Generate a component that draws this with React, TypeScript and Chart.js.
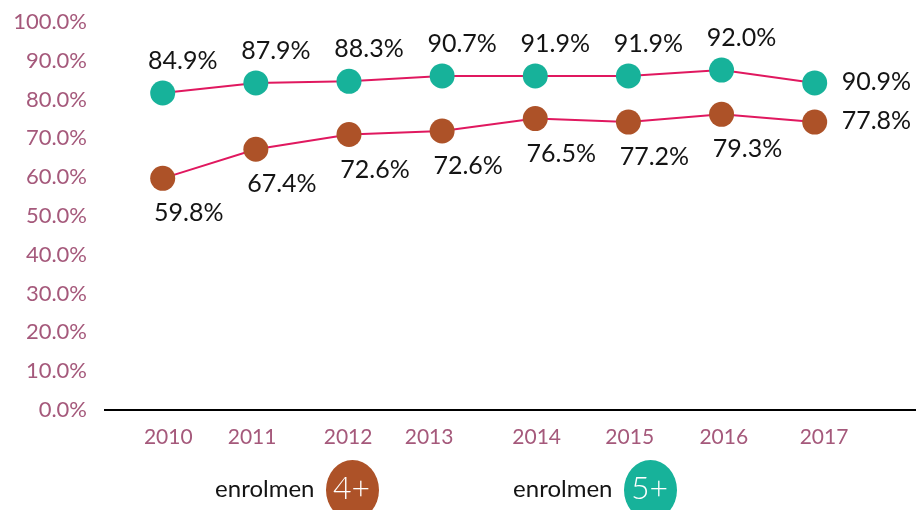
import React, { useEffect, useRef } from "react";
import { Chart, registerables } from "chart.js";

Chart.register(...registerables);

// ---- data ----
const years = ["2010", "2011", "2012", "2013", "2014", "2015", "2016", "2017"];
// point heights as drawn in the picture (percent)
const enrol5Values = [81.7, 84.3, 84.7, 86.1, 86.1, 86.1, 87.6, 84.3];
const enrol4Values = [59.7, 67.2, 71.0, 71.9, 75.1, 74.2, 76.2, 74.2];
// data label texts as printed
const enrol5Labels = ["84.9%", "87.9%", "88.3%", "90.7%", "91.9%", "91.9%", "92.0%", "90.9%"];
const enrol4Labels = ["59.8%", "67.4%", "72.6%", "72.6%", "76.5%", "77.2%", "79.3%", "77.8%"];
const legendNames = ["enrolmen", "enrolmen"];
const legendBadges = ["4+", "5+"];

// ---- layout / style constants ----
const yearTickAt = [0.06, 0.96, 1.99, 2.86, 4.015, 5.014, 6.024, 7.1];
const TEAL = "#17b29a";
const BROWN = "#ad5228";
const LINE = "#e0185f";
const MAUVE = "#a5597b";
const FONT = "Lato, 'Open Sans', sans-serif";

const labelPlugin = {
  id: "pointLabels",
  afterDatasetsDraw(chart: any) {
    const ctx = chart.ctx;
    ctx.save();
    ctx.font = `25px ${FONT}`;
    ctx.fillStyle = "#141414";
    ctx.textBaseline = "middle";
    chart.data.datasets.forEach((ds: any, di: number) => {
      const meta = chart.getDatasetMeta(di);
      const labels: string[] = ds.pointLabels;
      const above = ds.labelSide === "above";
      meta.data.forEach((pt: any, i: number) => {
        const last = i === meta.data.length - 1;
        if (last) {
          ctx.textAlign = "left";
          ctx.fillText(labels[i], pt.x + 27, pt.y - 1);
        } else {
          ctx.textAlign = "center";
          ctx.fillText(labels[i], pt.x + (above ? 20 : 26), pt.y + (above ? -32 : 35));
        }
      });
    });
    ctx.restore();
  },
};

const legendPlugin = {
  id: "badgeLegend",
  afterDraw(chart: any) {
    const ctx = chart.ctx;
    const centers = [352.5, 650.5];
    const colors = [BROWN, TEAL];
    ctx.save();
    centers.forEach((cx, i) => {
      const cy = 490;
      ctx.fillStyle = colors[i];
      ctx.beginPath();
      ctx.ellipse(cx, cy, 26.5, 30, 0, 0, Math.PI * 2);
      ctx.fill();
      ctx.fillStyle = "#ffffff";
      ctx.font = `300 32px ${FONT}`;
      ctx.textAlign = "center";
      ctx.textBaseline = "middle";
      ctx.fillText(legendBadges[i], cx - 1, 489);
      ctx.fillStyle = "#141414";
      ctx.font = `24px ${FONT}`;
      ctx.textAlign = "right";
      ctx.fillText(legendNames[i], cx - 38, 489);
    });
    ctx.restore();
  },
};

const zeroPadding = (axis: any) => {
  axis.paddingTop = 0;
  axis.paddingBottom = 0;
  axis.paddingLeft = 0;
  axis.paddingRight = 0;
};

export default function App() {
  const ref = useRef<HTMLCanvasElement | null>(null);

  useEffect(() => {
    if (!ref.current) return;
    const chart = new Chart(ref.current, {
      type: "line",
      data: {
        datasets: [
          {
            label: "enrolmen 5+",
            data: enrol5Values.map((v, i) => ({ x: i, y: v })),
            borderColor: LINE,
            borderWidth: 2,
            pointBackgroundColor: TEAL,
            pointBorderColor: TEAL,
            pointBorderWidth: 0,
            pointRadius: 12.5,
            tension: 0,
            clip: false,
            pointLabels: enrol5Labels,
            labelSide: "above",
          } as any,
          {
            label: "enrolmen 4+",
            data: enrol4Values.map((v, i) => ({ x: i, y: v })),
            borderColor: LINE,
            borderWidth: 2,
            pointBackgroundColor: BROWN,
            pointBorderColor: BROWN,
            pointBorderWidth: 0,
            pointRadius: 12.5,
            tension: 0,
            clip: false,
            pointLabels: enrol4Labels,
            labelSide: "below",
          } as any,
        ],
      },
      options: {
        responsive: false,
        animation: false,
        devicePixelRatio: 1,
        events: [],
        layout: { autoPadding: false, padding: { top: 22, left: 0, right: 0, bottom: 0 } },
        plugins: {
          legend: { display: false },
          tooltip: { enabled: false },
        },
        scales: {
          x: {
            type: "linear",
            min: -0.6195,
            max: 8.0876,
            grid: { display: false, drawTicks: false },
            border: { display: true, color: "#000000", width: 2 },
            afterBuildTicks: (axis: any) => {
              axis.ticks = yearTickAt.map((v) => ({ value: v }));
            },
            afterFit: (axis: any) => {
              axis.height = 100;
              zeroPadding(axis);
            },
            ticks: {
              autoSkip: false,
              maxRotation: 0,
              padding: 15,
              color: MAUVE,
              font: { family: FONT, size: 21 },
              callback: (v: any) => years[Math.round(Number(v))] ?? "",
            },
          },
          y: {
            type: "linear",
            min: 0,
            max: 100,
            grid: { display: false, drawTicks: false },
            border: { display: false },
            afterFit: (axis: any) => {
              axis.width = 105;
              zeroPadding(axis);
            },
            ticks: {
              stepSize: 10,
              padding: 18,
              color: MAUVE,
              font: { family: FONT, size: 22 },
              callback: (v: any) => Number(v).toFixed(1) + "%",
            },
          },
        },
      },
      plugins: [labelPlugin, legendPlugin],
    } as any);
    return () => chart.destroy();
  }, []);

  return (
    <div style={{ position: "fixed", left: 0, top: 0, width: 916, height: 510, background: "#fff" }}>
      <canvas ref={ref} width={916} height={510} style={{ display: "block", width: 916, height: 510 }} />
    </div>
  );
}
